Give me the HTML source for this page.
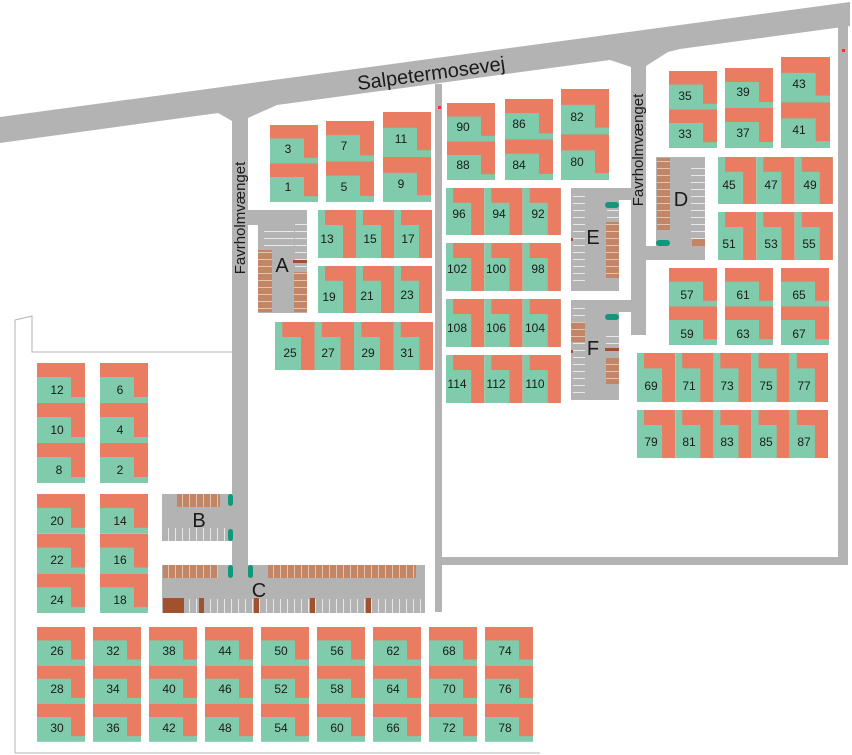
<!DOCTYPE html>
<html><head><meta charset="utf-8"><style>
html,body{margin:0;padding:0;background:#fff;}
svg{display:block;}
text{font-family:"Liberation Sans",sans-serif;fill:#1a1a1a;}
.n{font-size:12px;text-anchor:middle;}
.L{font-size:20px;text-anchor:middle;}
</style></head><body>
<svg width="852" height="755" viewBox="0 0 852 755" xmlns="http://www.w3.org/2000/svg">
<defs>
<symbol id="v" viewBox="0 0 48 40" preserveAspectRatio="none"><rect width="48" height="40" fill="#7fcbab"/><path d="M0 0H48V34H34V14H0Z" fill="#e97c61"/></symbol>
<symbol id="h" viewBox="0 0 38 48" preserveAspectRatio="none"><rect width="38" height="48" fill="#7fcbab"/><path d="M7 0H38V48H25V15H7Z" fill="#e97c61"/></symbol>
<pattern id="st" width="7" height="7" patternUnits="userSpaceOnUse"><rect width="7" height="7" fill="#c28566"/><rect width="1" height="7" fill="#e3c2b0"/></pattern>
<pattern id="sv" width="7" height="7" patternUnits="userSpaceOnUse"><rect width="7" height="7" fill="#c28566"/><rect width="7" height="1" fill="#e3c2b0"/></pattern>
<pattern id="wl" width="7" height="7" patternUnits="userSpaceOnUse"><rect width="7" height="7" fill="#b3b3b3"/><rect width="1" height="7" fill="#e8e8e8"/></pattern>
<pattern id="wh" width="7" height="7" patternUnits="userSpaceOnUse"><rect width="7" height="7" fill="#b3b3b3"/><rect width="7" height="1" fill="#e8e8e8"/></pattern>
</defs>
<g fill="#b3b3b3">
<!-- main road -->
<path d="M0 117L850 2V26L680 49L668 52L646 66V335H631V67L610 60L277 105L248 118V565H232V121L218 113L0 143Z"/>
<rect x="435" y="84" width="7" height="528"/>
<rect x="838" y="26" width="10" height="539"/>
<rect x="441" y="557" width="407" height="8"/>
<!-- A -->
<path d="M248 210H307V313H258V225H248Z"/>
<!-- B -->
<rect x="162" y="494" width="72" height="47"/>
<!-- C -->
<rect x="162" y="565" width="263" height="48"/>
<!-- E F D -->
<path d="M571 188H632V200H619V291H571Z"/>
<path d="M571 300H632V312H619V400H571Z"/>
<path d="M656 157H705V260H645V246H656Z"/>
</g>
<!-- parking stripes -->
<rect x="264" y="226" width="30" height="24" fill="url(#wh)"/>
<rect x="295" y="218" width="12" height="52" fill="url(#wh)"/>
<rect x="258" y="250" width="14" height="62" fill="url(#sv)"/>
<rect x="294" y="272" width="13" height="40" fill="url(#sv)"/>
<rect x="293" y="260" width="14" height="3" fill="#a0522d"/>
<rect x="165" y="528" width="60" height="13" fill="url(#wl)"/>
<rect x="177" y="494" width="43" height="13" fill="url(#st)"/>
<rect x="163" y="565" width="55" height="13" fill="url(#st)"/>
<rect x="268" y="565" width="148" height="13" fill="url(#st)"/>
<rect x="163" y="599" width="260" height="14" fill="url(#wl)"/>
<g fill="#a0522d"><rect x="163" y="598" width="21" height="15"/><rect x="199" y="598" width="5" height="15"/><rect x="254" y="598" width="5" height="15"/><rect x="310" y="598" width="5" height="15"/><rect x="366" y="598" width="5" height="15"/>
<rect x="571" y="238" width="14" height="3"/><rect x="571" y="350" width="14" height="3"/><rect x="605" y="348" width="14" height="3"/><rect x="691" y="207" width="14" height="3"/></g>
<rect x="573" y="195" width="12" height="90" fill="url(#wh)"/>
<rect x="607" y="210" width="12" height="10" fill="url(#wh)"/>
<rect x="606" y="222" width="13" height="56" fill="url(#sv)"/>
<rect x="573" y="308" width="12" height="85" fill="url(#wh)"/>
<rect x="571" y="322" width="14" height="20" fill="url(#sv)"/>
<rect x="606" y="358" width="13" height="26" fill="url(#sv)"/>
<rect x="606" y="330" width="13" height="16" fill="url(#wh)"/>
<rect x="657" y="158" width="13" height="72" fill="url(#sv)"/>
<rect x="691" y="165" width="14" height="75" fill="url(#wh)"/>
<rect x="692" y="239" width="13" height="7" fill="#c28566"/>
<g fill="#12977a">
<rect x="228" y="494" width="5" height="12" rx="2.5"/><rect x="228" y="529" width="5" height="12" rx="2.5"/>
<rect x="228" y="565" width="5" height="13" rx="2.5"/><rect x="248" y="565" width="5" height="13" rx="2.5"/>
<rect x="605" y="202" width="14" height="6" rx="3"/><rect x="605" y="314" width="14" height="6" rx="3"/><rect x="656" y="240" width="14" height="6" rx="3"/>
</g>
<text class="L" x="282" y="272">A</text>
<text class="L" x="199" y="527">B</text>
<text class="L" x="259" y="597">C</text>
<text class="L" x="593" y="244">E</text>
<text class="L" x="593" y="355">F</text>
<text class="L" x="681" y="206">D</text>
<text x="240" y="218" font-size="15" text-anchor="middle" transform="rotate(-90 240 218)" dy="5">Favrholmvænget</text>
<text x="638" y="150" font-size="15" text-anchor="middle" transform="rotate(-90 638 150)" dy="5">Favrholmvænget</text>
<text x="432" y="80" font-size="20" text-anchor="middle" transform="rotate(-7.8 432 80)">Salpetermosevej</text>
<!-- outline -->
<path d="M15 753V320L32 316V352H232" fill="none" stroke="#b3b3b3" stroke-width="1"/>
<line x1="15" y1="753" x2="540" y2="753" stroke="#b3b3b3" stroke-width="1"/>
<rect x="438" y="106" width="3" height="3" fill="#e33"/>
<rect x="842" y="49" width="3" height="3" fill="#e33"/>

<!-- vertical stacks -->
<use href="#v" x="270" y="125" width="48" height="38.5"/><use href="#v" x="270" y="163.5" width="48" height="38.5"/>
<use href="#v" x="326" y="121" width="48" height="40.5"/><use href="#v" x="326" y="161.5" width="48" height="40.5"/>
<use href="#v" x="383" y="112" width="48" height="45"/><use href="#v" x="383" y="157" width="48" height="45"/>
<use href="#v" x="447" y="103" width="48" height="38.5"/><use href="#v" x="447" y="141.5" width="48" height="38.5"/>
<use href="#v" x="505" y="99" width="48" height="40.5"/><use href="#v" x="505" y="139.5" width="48" height="40.5"/>
<use href="#v" x="561" y="89" width="48" height="45.5"/><use href="#v" x="561" y="134.5" width="48" height="45.5"/>
<use href="#v" x="669" y="71" width="48" height="38.5"/><use href="#v" x="669" y="109.5" width="48" height="38.5"/>
<use href="#v" x="725" y="68" width="48" height="40"/><use href="#v" x="725" y="108" width="48" height="40"/>
<use href="#v" x="781" y="57" width="49" height="45.5"/><use href="#v" x="781" y="102.5" width="49" height="45.5"/>
<use href="#v" x="669" y="268" width="48" height="38.5"/><use href="#v" x="669" y="306.5" width="48" height="38.5"/>
<use href="#v" x="725" y="268" width="48" height="38.5"/><use href="#v" x="725" y="306.5" width="48" height="38.5"/>
<use href="#v" x="781" y="268" width="48" height="38.5"/><use href="#v" x="781" y="306.5" width="48" height="38.5"/>
<use href="#v" x="37" y="363" width="48" height="40"/><use href="#v" x="37" y="403" width="48" height="40"/><use href="#v" x="37" y="443" width="48" height="40"/>
<use href="#v" x="100" y="363" width="48" height="40"/><use href="#v" x="100" y="403" width="48" height="40"/><use href="#v" x="100" y="443" width="48" height="40"/>
<use href="#v" x="37" y="494" width="48" height="39.7"/><use href="#v" x="37" y="533.7" width="48" height="39.7"/><use href="#v" x="37" y="573.4" width="48" height="39.7"/>
<use href="#v" x="100" y="494" width="48" height="39.7"/><use href="#v" x="100" y="533.7" width="48" height="39.7"/><use href="#v" x="100" y="573.4" width="48" height="39.7"/>
<g>
<use href="#v" x="37" y="627" width="48" height="38.3"/><use href="#v" x="37" y="665.3" width="48" height="38.3"/><use href="#v" x="37" y="703.6" width="48" height="38.3"/>
<use href="#v" x="93" y="627" width="48" height="38.3"/><use href="#v" x="93" y="665.3" width="48" height="38.3"/><use href="#v" x="93" y="703.6" width="48" height="38.3"/>
<use href="#v" x="149" y="627" width="48" height="38.3"/><use href="#v" x="149" y="665.3" width="48" height="38.3"/><use href="#v" x="149" y="703.6" width="48" height="38.3"/>
<use href="#v" x="205" y="627" width="48" height="38.3"/><use href="#v" x="205" y="665.3" width="48" height="38.3"/><use href="#v" x="205" y="703.6" width="48" height="38.3"/>
<use href="#v" x="261" y="627" width="48" height="38.3"/><use href="#v" x="261" y="665.3" width="48" height="38.3"/><use href="#v" x="261" y="703.6" width="48" height="38.3"/>
<use href="#v" x="317" y="627" width="48" height="38.3"/><use href="#v" x="317" y="665.3" width="48" height="38.3"/><use href="#v" x="317" y="703.6" width="48" height="38.3"/>
<use href="#v" x="373" y="627" width="48" height="38.3"/><use href="#v" x="373" y="665.3" width="48" height="38.3"/><use href="#v" x="373" y="703.6" width="48" height="38.3"/>
<use href="#v" x="429" y="627" width="48" height="38.3"/><use href="#v" x="429" y="665.3" width="48" height="38.3"/><use href="#v" x="429" y="703.6" width="48" height="38.3"/>
<use href="#v" x="485" y="627" width="48" height="38.3"/><use href="#v" x="485" y="665.3" width="48" height="38.3"/><use href="#v" x="485" y="703.6" width="48" height="38.3"/>
</g>
<!-- rows -->
<use href="#h" x="318" y="210" width="38" height="48"/><use href="#h" x="356" y="210" width="38" height="48"/><use href="#h" x="394" y="210" width="38" height="48"/>
<use href="#h" x="318" y="266" width="38" height="47"/><use href="#h" x="356" y="266" width="38" height="47"/><use href="#h" x="394" y="266" width="38" height="47"/>
<use href="#h" x="275" y="322" width="39.5" height="48"/><use href="#h" x="314.5" y="322" width="39.5" height="48"/><use href="#h" x="354" y="322" width="39.5" height="48"/><use href="#h" x="393.5" y="322" width="39.5" height="48"/>
<use href="#h" x="446" y="188" width="38.3" height="47"/><use href="#h" x="484.3" y="188" width="38.3" height="47"/><use href="#h" x="522.6" y="188" width="38.3" height="47"/>
<use href="#h" x="446" y="243" width="38.3" height="48"/><use href="#h" x="484.3" y="243" width="38.3" height="48"/><use href="#h" x="522.6" y="243" width="38.3" height="48"/>
<use href="#h" x="446" y="299" width="38.3" height="48"/><use href="#h" x="484.3" y="299" width="38.3" height="48"/><use href="#h" x="522.6" y="299" width="38.3" height="48"/>
<use href="#h" x="446" y="355" width="38.3" height="48"/><use href="#h" x="484.3" y="355" width="38.3" height="48"/><use href="#h" x="522.6" y="355" width="38.3" height="48"/>
<use href="#h" x="718" y="157" width="38.3" height="47"/><use href="#h" x="756.3" y="157" width="38.3" height="47"/><use href="#h" x="794.6" y="157" width="38.3" height="47"/>
<use href="#h" x="718" y="212" width="38.3" height="48"/><use href="#h" x="756.3" y="212" width="38.3" height="48"/><use href="#h" x="794.6" y="212" width="38.3" height="48"/>
<use href="#h" x="637" y="353" width="38.2" height="49"/><use href="#h" x="675.2" y="353" width="38.2" height="49"/><use href="#h" x="713.4" y="353" width="38.2" height="49"/><use href="#h" x="751.6" y="353" width="38.2" height="49"/><use href="#h" x="789.8" y="353" width="38.2" height="49"/>
<use href="#h" x="637" y="410" width="38.2" height="48"/><use href="#h" x="675.2" y="410" width="38.2" height="48"/><use href="#h" x="713.4" y="410" width="38.2" height="48"/><use href="#h" x="751.6" y="410" width="38.2" height="48"/><use href="#h" x="789.8" y="410" width="38.2" height="48"/>

<g class="n">
<text class="n" x="288" y="153">3</text><text class="n" x="288" y="191">1</text>
<text class="n" x="344" y="150">7</text><text class="n" x="344" y="191">5</text>
<text class="n" x="401" y="143">11</text><text class="n" x="401" y="188">9</text>
<text class="n" x="463" y="131">90</text><text class="n" x="463" y="169">88</text>
<text class="n" x="519" y="128">86</text><text class="n" x="519" y="169">84</text>
<text class="n" x="577" y="121">82</text><text class="n" x="577" y="166">80</text>
<text class="n" x="685" y="100">35</text><text class="n" x="685" y="138">33</text>
<text class="n" x="743" y="96">39</text><text class="n" x="743" y="137">37</text>
<text class="n" x="799" y="88">43</text><text class="n" x="799" y="134">41</text>
<text class="n" x="687" y="299">57</text><text class="n" x="687" y="338">59</text>
<text class="n" x="743" y="299">61</text><text class="n" x="743" y="338">63</text>
<text class="n" x="799" y="299">65</text><text class="n" x="799" y="338">67</text>
<text class="n" x="57" y="394">12</text><text class="n" x="57" y="434">10</text><text class="n" x="59" y="474">8</text>
<text class="n" x="120" y="394">6</text><text class="n" x="120" y="434">4</text><text class="n" x="120" y="474">2</text>
<text class="n" x="57" y="525">20</text><text class="n" x="57" y="564">22</text><text class="n" x="57" y="604">24</text>
<text class="n" x="120" y="525">14</text><text class="n" x="120" y="564">16</text><text class="n" x="120" y="604">18</text>
<text class="n" x="57" y="655">26</text><text class="n" x="57" y="693">28</text><text class="n" x="57" y="732">30</text>
<text class="n" x="113" y="655">32</text><text class="n" x="113" y="693">34</text><text class="n" x="113" y="732">36</text>
<text class="n" x="169" y="655">38</text><text class="n" x="169" y="693">40</text><text class="n" x="169" y="732">42</text>
<text class="n" x="225" y="655">44</text><text class="n" x="225" y="693">46</text><text class="n" x="225" y="732">48</text>
<text class="n" x="281" y="655">50</text><text class="n" x="281" y="693">52</text><text class="n" x="281" y="732">54</text>
<text class="n" x="337" y="655">56</text><text class="n" x="337" y="693">58</text><text class="n" x="337" y="732">60</text>
<text class="n" x="393" y="655">62</text><text class="n" x="393" y="693">64</text><text class="n" x="393" y="732">66</text>
<text class="n" x="449" y="655">68</text><text class="n" x="449" y="693">70</text><text class="n" x="449" y="732">72</text>
<text class="n" x="505" y="655">74</text><text class="n" x="505" y="693">76</text><text class="n" x="505" y="732">78</text>
<text class="n" x="327" y="243">13</text><text class="n" x="370" y="243">15</text><text class="n" x="408" y="243">17</text>
<text class="n" x="329" y="301">19</text><text class="n" x="367" y="300">21</text><text class="n" x="407" y="299">23</text>
<text class="n" x="290" y="357">25</text><text class="n" x="328" y="357">27</text><text class="n" x="368" y="357">29</text><text class="n" x="407" y="357">31</text>
<text class="n" x="459" y="218">96</text><text class="n" x="499" y="218">94</text><text class="n" x="538" y="218">92</text>
<text class="n" x="457" y="273">102</text><text class="n" x="496" y="273">100</text><text class="n" x="538" y="273">98</text>
<text class="n" x="457" y="332">108</text><text class="n" x="496" y="332">106</text><text class="n" x="535" y="332">104</text>
<text class="n" x="457" y="388">114</text><text class="n" x="496" y="388">112</text><text class="n" x="535" y="388">110</text>
<text class="n" x="729" y="189">45</text><text class="n" x="771" y="189">47</text><text class="n" x="810" y="189">49</text>
<text class="n" x="729" y="248">51</text><text class="n" x="771" y="248">53</text><text class="n" x="809" y="248">55</text>
<text class="n" x="651" y="390">69</text><text class="n" x="689" y="390">71</text><text class="n" x="727" y="390">73</text><text class="n" x="766" y="390">75</text><text class="n" x="804" y="390">77</text>
<text class="n" x="651" y="446">79</text><text class="n" x="689" y="446">81</text><text class="n" x="727" y="446">83</text><text class="n" x="766" y="446">85</text><text class="n" x="804" y="446">87</text>
</g>
</svg>
</body></html>
